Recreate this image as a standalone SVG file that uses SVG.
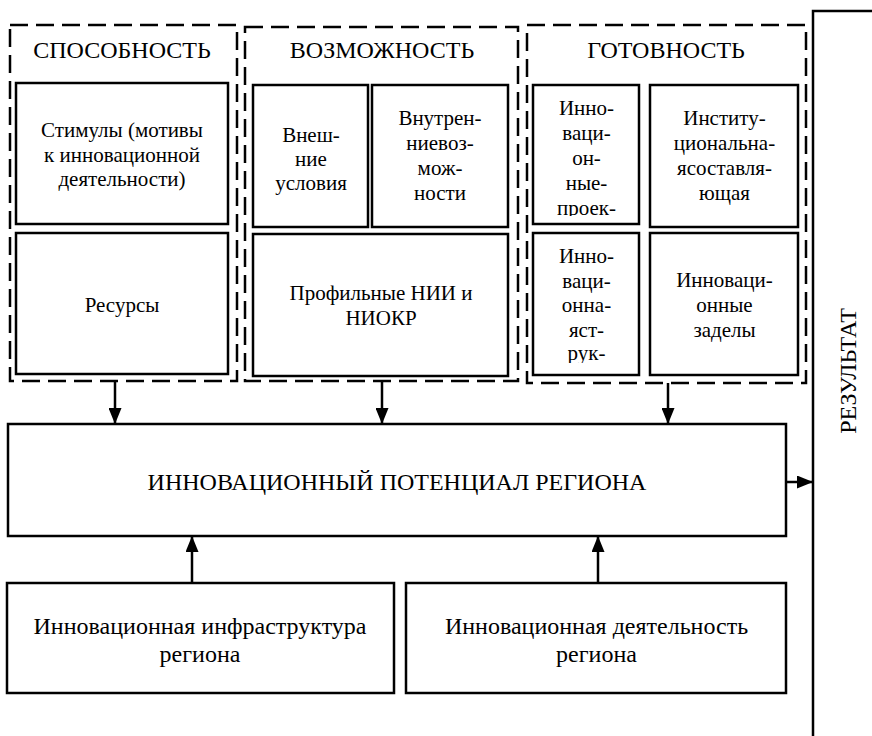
<svg xmlns="http://www.w3.org/2000/svg" width="872" height="736" viewBox="0 0 872 736">
<style>
.bg{fill:#fff}
.dash{fill:none;stroke:#000;stroke-width:2.5;stroke-dasharray:18 8}
.box{fill:#fff;stroke:#000;stroke-width:2.5}
.t{font-family:'Liberation Serif','Times New Roman',serif;font-size:21px;fill:#000;text-anchor:middle}
.h{font-size:24px}
.ln{fill:none;stroke:#000;stroke-width:2.5}
</style>
<defs>
<marker id="ah" viewBox="0 0 16 13" refX="16" refY="6.5" markerWidth="16" markerHeight="13" markerUnits="userSpaceOnUse" orient="auto">
<path d="M0,0 L16,6.5 L0,13 Z" fill="#000"/>
</marker>
<clipPath id="c3a"><rect x="534" y="86" width="104" height="130"/></clipPath>
<clipPath id="c3c"><rect x="534" y="234" width="104" height="129"/></clipPath>
</defs>
<rect class="bg" x="0" y="0" width="872" height="736"/>

<g id="sposobnost">
<rect class="dash" x="10" y="25" width="227" height="356"/>
<text class="t h" x="122" y="58">СПОСОБНОСТЬ</text>
</g>
<g id="stimuly">
<rect class="box" x="16" y="83" width="212" height="141"/>
<text class="t" x="122" y="137">Стимулы (мотивы</text>
<text class="t" x="122" y="161.5">к инновационной</text>
<text class="t" x="122" y="186">деятельности)</text>
</g>
<g id="resursy">
<rect class="box" x="16" y="233" width="212" height="141"/>
<text class="t" x="122" y="312">Ресурсы</text>
</g>

<g id="vozmozhnost">
<rect class="dash" x="245" y="27" width="273" height="354"/>
<text class="t h" x="382" y="58">ВОЗМОЖНОСТЬ</text>
</g>
<g id="vneshnie">
<rect class="box" x="253" y="85" width="115" height="142"/>
<text class="t" x="311" y="142">Внеш-</text>
<text class="t" x="311" y="166">ние</text>
<text class="t" x="311" y="190">условия</text>
</g>
<g id="vnutrennie">
<rect class="box" x="372" y="85" width="136" height="142"/>
<text class="t" x="440" y="125">Внутрен-</text>
<text class="t" x="440" y="150">ниевоз-</text>
<text class="t" x="440" y="175">мож-</text>
<text class="t" x="440" y="200">ности</text>
</g>
<g id="profilnye">
<rect class="box" x="253" y="234" width="255" height="142"/>
<text class="t" x="381" y="300">Профильные НИИ и</text>
<text class="t" x="381" y="325">НИОКР</text>
</g>

<g id="gotovnost">
<rect class="dash" x="527" y="25" width="279" height="358"/>
<text class="t h" x="666" y="58">ГОТОВНОСТЬ</text>
</g>
<g id="proekty">
<rect class="box" x="533" y="85" width="106" height="139"/>
<g clip-path="url(#c3a)">
<text class="t" x="586.5" y="115">Инно-</text>
<text class="t" x="586.5" y="140">ваци-</text>
<text class="t" x="586.5" y="165">он-</text>
<text class="t" x="586.5" y="190">ные-</text>
<text class="t" x="586.5" y="215">проек-</text>
</g>
</g>
<g id="institut">
<rect class="box" x="650" y="85" width="148" height="142"/>
<text class="t" x="724.5" y="125">Институ-</text>
<text class="t" x="724.5" y="150">циональна-</text>
<text class="t" x="724.5" y="175">ясоставля-</text>
<text class="t" x="724.5" y="200">ющая</text>
</g>
<g id="struktura">
<rect class="box" x="533" y="233" width="106" height="142"/>
<g clip-path="url(#c3c)">
<text class="t" x="586.5" y="263">Инно-</text>
<text class="t" x="586.5" y="287.5">ваци-</text>
<text class="t" x="586.5" y="312">онна-</text>
<text class="t" x="586.5" y="336.5">яст-</text>
<text class="t" x="586.5" y="360">рук-</text>
</g>
</g>
<g id="zadely">
<rect class="box" x="650" y="233" width="148" height="142"/>
<text class="t" x="724.5" y="287">Инноваци-</text>
<text class="t" x="724.5" y="312">онные</text>
<text class="t" x="724.5" y="337">заделы</text>
</g>

<g id="potencial">
<rect class="box" x="8" y="424" width="778" height="112"/>
<text class="t h" x="397" y="490">ИННОВАЦИОННЫЙ ПОТЕНЦИАЛ РЕГИОНА</text>
</g>
<g id="infrastruktura">
<rect class="box" x="7" y="583" width="387" height="110"/>
<text class="t h" x="200" y="634">Инновационная инфраструктура</text>
<text class="t h" x="200" y="662">региона</text>
</g>
<g id="deyatelnost">
<rect class="box" x="406" y="583" width="380" height="110"/>
<text class="t h" x="596.5" y="634">Инновационная деятельность</text>
<text class="t h" x="596.5" y="662">региона</text>
</g>
<g id="rezultat">
<polyline class="ln" points="813,736 813,11 872,11"/>
<text class="t h" transform="translate(856,371) rotate(-90)" x="0" y="0">РЕЗУЛЬТАТ</text>
</g>

<g id="connectors">
<line class="ln" x1="115" y1="381" x2="115" y2="424" marker-end="url(#ah)"/>
<line class="ln" x1="382" y1="381" x2="382" y2="424" marker-end="url(#ah)"/>
<line class="ln" x1="668" y1="383" x2="668" y2="424" marker-end="url(#ah)"/>
<line class="ln" x1="192" y1="583" x2="192" y2="536" marker-end="url(#ah)"/>
<line class="ln" x1="598" y1="583" x2="598" y2="536" marker-end="url(#ah)"/>
<line class="ln" x1="786" y1="482" x2="813" y2="482" marker-end="url(#ah)"/>
</g>
</svg>
